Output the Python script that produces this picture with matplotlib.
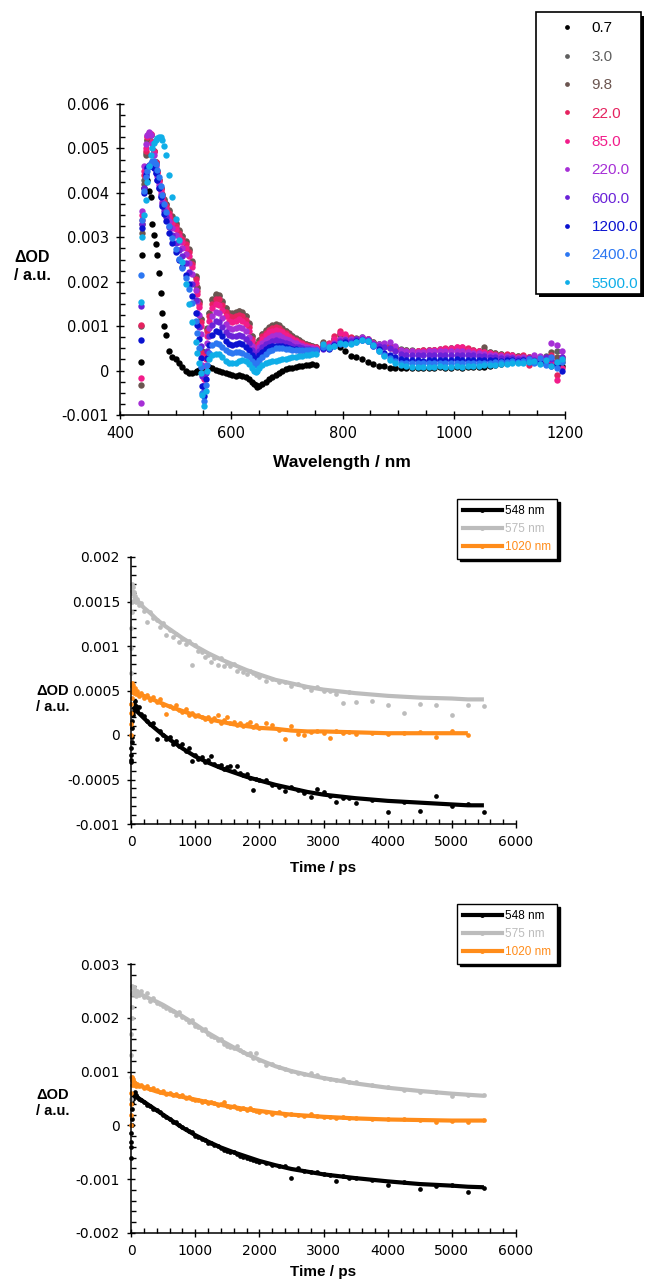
import numpy as np
import matplotlib
matplotlib.use("Agg")
import matplotlib.pyplot as plt
from matplotlib.patches import Rectangle
from matplotlib.lines import Line2D
from matplotlib.ticker import AutoMinorLocator

plt.rcParams['font.family'] = ['DejaVu Sans']

# ---------------- transient spectra (values in 1e-3 OD) ----------------
delay_labels = ['0.7', '3.0', '9.8', '22.0', '85.0', '220.0', '600.0', '1200.0', '2400.0', '5500.0']
delay_colors = ['#000000', '#5f5f5f', '#6b5550', '#e5235f', '#f21c8a',
                '#a62fd6', '#6a22d8', '#0a12d0', '#2c77f2', '#10aee8']

wl_vis = [437, 440, 443, 446, 449, 452, 455, 458, 461, 464, 467, 470, 473, 476, 479, 482,
          488, 494, 500, 506, 512, 518, 524, 530, 536,
          539, 542, 545, 548, 551, 554, 557, 560,
          566, 572, 578, 584, 590, 596, 602, 608, 614, 620, 626, 632, 638,
          641, 644, 647, 650,
          656, 662, 668, 674, 680, 686, 692, 698, 704, 710, 716, 722, 728, 734, 740, 746, 752]

wl_nir = [765, 775, 785, 795, 805, 815, 825, 835, 845, 855, 865,
          875, 885, 895, 905, 915, 925, 935, 945, 955, 965, 975,
          985, 995, 1005, 1015, 1025, 1035, 1045, 1055, 1065, 1075, 1085,
          1095, 1105, 1115, 1125, 1135, 1145, 1155, 1165, 1175, 1185, 1195]

s07_vis = [0.2, 2.6, 4.1, 4.5, 4.3, 4.05, 3.9, 3.3, 3.05, 2.85, 2.6, 2.2, 1.75, 1.3, 1.0, 0.8,
           0.45, 0.3, 0.25, 0.18, 0.08, 0.0, -0.05, -0.05, -0.03,
           0.0, 0.02, 0.03, 0.04, 0.06, 0.08, 0.09, 0.08,
           0.05, 0.02, 0.0, -0.03, -0.06, -0.07, -0.1, -0.12, -0.1, -0.12, -0.15, -0.2, -0.25,
           -0.3, -0.33, -0.36, -0.34,
           -0.3, -0.25, -0.2, -0.15, -0.1, -0.05, 0.0, 0.03, 0.05, 0.06, 0.08, 0.1, 0.1, 0.12, 0.13, 0.14, 0.12]
s3_vis = [1.0, 3.3, 4.3, 4.9, 5.2, 5.3, 5.3, 5.15, 4.95, 4.7, 4.5, 4.3, 4.1, 3.95, 3.85, 3.75,
          3.6, 3.45, 3.3, 3.15, 3.02, 2.9, 2.72, 2.45, 2.1,
          1.85, 1.55, 1.15, 0.45, -0.05, 0.4, 0.95, 1.3,
          1.58, 1.7, 1.68, 1.55, 1.4, 1.3, 1.28, 1.3, 1.33, 1.3, 1.22, 1.05, 0.78,
          0.6, 0.47, 0.52, 0.68,
          0.82, 0.9, 0.96, 1.0, 1.03, 1.0, 0.94, 0.88, 0.82, 0.77, 0.72, 0.68, 0.63, 0.6, 0.57, 0.55, 0.53]
s98_vis = [-0.32, 3.1, 4.2, 4.85, 5.2, 5.3, 5.3, 5.15, 4.95, 4.7, 4.5, 4.3, 4.12, 3.97, 3.86, 3.76,
           3.62, 3.47, 3.32, 3.17, 3.04, 2.92, 2.74, 2.47, 2.12,
           1.87, 1.57, 1.17, 0.45, -0.08, 0.38, 0.93, 1.3,
           1.6, 1.72, 1.7, 1.56, 1.4, 1.3, 1.3, 1.32, 1.35, 1.32, 1.23, 1.06, 0.78,
           0.6, 0.46, 0.52, 0.68,
           0.83, 0.92, 0.98, 1.02, 1.05, 1.02, 0.96, 0.9, 0.84, 0.78, 0.73, 0.68, 0.64, 0.6, 0.57, 0.55, 0.54]
s22_vis = [1.03, 3.4, 4.4, 4.95, 5.25, 5.33, 5.32, 5.15, 4.95, 4.7, 4.48, 4.28, 4.08, 3.92, 3.8, 3.7,
           3.55, 3.4, 3.25, 3.1, 2.97, 2.84, 2.66, 2.4, 2.05,
           1.8, 1.5, 1.1, 0.4, -0.12, 0.33, 0.88, 1.22,
           1.5, 1.61, 1.6, 1.47, 1.32, 1.22, 1.2, 1.22, 1.25, 1.22, 1.14, 0.98, 0.72,
           0.56, 0.43, 0.48, 0.63,
           0.77, 0.85, 0.91, 0.95, 0.97, 0.95, 0.9, 0.84, 0.78, 0.73, 0.69, 0.65, 0.61, 0.58, 0.56, 0.54, 0.52]
s85_vis = [-0.17, 3.5, 4.5, 5.0, 5.28, 5.35, 5.33, 5.15, 4.92, 4.66, 4.44, 4.24, 4.04, 3.88, 3.75, 3.64,
           3.48, 3.33, 3.18, 3.03, 2.9, 2.76, 2.58, 2.32, 1.97,
           1.72, 1.42, 1.0, 0.3, -0.2, 0.25, 0.78, 1.12,
           1.4, 1.5, 1.48, 1.36, 1.22, 1.12, 1.1, 1.12, 1.15, 1.12, 1.05, 0.9, 0.66,
           0.52, 0.4, 0.45, 0.6,
           0.72, 0.8, 0.86, 0.9, 0.92, 0.9, 0.86, 0.8, 0.75, 0.7, 0.66, 0.62, 0.59, 0.56, 0.54, 0.52, 0.51]
s220_vis = [-0.73, 3.6, 4.6, 5.1, 5.3, 5.36, 5.3, 5.1, 4.86, 4.6, 4.38, 4.17, 3.97, 3.8, 3.66, 3.54,
            3.36, 3.2, 3.05, 2.9, 2.76, 2.62, 2.43, 2.17, 1.82,
            1.56, 1.25, 0.82, 0.12, -0.32, 0.1, 0.62, 0.95,
            1.22, 1.32, 1.3, 1.18, 1.05, 0.96, 0.94, 0.95, 0.97, 0.95, 0.88, 0.76, 0.56,
            0.45, 0.36, 0.4, 0.52,
            0.62, 0.69, 0.74, 0.78, 0.8, 0.79, 0.76, 0.72, 0.68, 0.64, 0.61, 0.58, 0.55, 0.53, 0.51, 0.5, 0.49]
s600_vis = [1.45, 3.3, 4.1, 4.45, 4.58, 4.62, 4.63, 4.6, 4.55, 4.45, 4.3, 4.12, 3.94, 3.76, 3.6, 3.46,
            3.24, 3.05, 2.88, 2.72, 2.57, 2.42, 2.22, 1.95, 1.58,
            1.3, 0.98, 0.55, -0.12, -0.45, -0.05, 0.45, 0.78,
            1.02, 1.12, 1.1, 0.99, 0.87, 0.79, 0.77, 0.78, 0.8, 0.78, 0.72, 0.62, 0.46,
            0.37, 0.3, 0.34, 0.44,
            0.53, 0.59, 0.63, 0.66, 0.68, 0.67, 0.65, 0.62, 0.59, 0.56, 0.54, 0.52, 0.5, 0.49, 0.48, 0.47, 0.47]
s1200_vis = [0.69, 3.2, 4.0, 4.4, 4.55, 4.6, 4.62, 4.6, 4.55, 4.45, 4.3, 4.1, 3.9, 3.7, 3.52, 3.36,
             3.1, 2.88, 2.68, 2.5, 2.33, 2.16, 1.95, 1.67, 1.3,
             1.02, 0.7, 0.28, -0.35, -0.58, -0.2, 0.28, 0.58,
             0.8, 0.88, 0.86, 0.77, 0.67, 0.6, 0.58, 0.59, 0.61, 0.59, 0.54, 0.46, 0.35,
             0.28, 0.23, 0.26, 0.34,
             0.42, 0.48, 0.52, 0.55, 0.56, 0.56, 0.55, 0.53, 0.51, 0.49, 0.48, 0.47, 0.46, 0.45, 0.45, 0.44, 0.44]
s2400_vis = [2.15, 3.4, 4.05, 4.35, 4.5, 4.6, 4.68, 4.72, 4.72, 4.65, 4.52, 4.35, 4.15, 3.95, 3.75, 3.56,
             3.25, 2.98, 2.74, 2.52, 2.3, 2.08, 1.83, 1.52, 1.12,
             0.85, 0.5, 0.08, -0.5, -0.68, -0.32, 0.12, 0.4,
             0.57, 0.62, 0.6, 0.53, 0.46, 0.42, 0.4, 0.41, 0.42, 0.4, 0.36, 0.3, 0.21,
             0.16, 0.13, 0.16, 0.23,
             0.31, 0.38, 0.43, 0.47, 0.5, 0.5, 0.5, 0.49, 0.48, 0.47, 0.47, 0.46, 0.46, 0.46, 0.46, 0.46, 0.46]
s5500_vis = [1.55, 3.0, 3.5, 3.85, 4.25, 4.6, 4.85, 5.02, 5.12, 5.2, 5.24, 5.26, 5.25, 5.18, 5.05, 4.85,
             4.4, 3.9, 3.42, 2.95, 2.45, 1.95, 1.5, 1.1, 0.65,
             0.4, 0.18, -0.05, -0.55, -0.8, -0.45, 0.0, 0.25,
             0.35, 0.38, 0.37, 0.3, 0.22, 0.18, 0.16, 0.18, 0.22, 0.24, 0.22, 0.15, 0.05,
             0.0, -0.03, 0.0, 0.06,
             0.12, 0.16, 0.19, 0.21, 0.22, 0.23, 0.25, 0.27, 0.29, 0.3, 0.31, 0.32, 0.33, 0.35, 0.36, 0.37, 0.38]

s07_nir = [0.55, 0.5, 0.58, 0.52, 0.45, 0.33, 0.3, 0.25, 0.2, 0.14, 0.1,
           0.1, 0.06, 0.05, 0.06, 0.05, 0.05, 0.06, 0.05, 0.06, 0.05, 0.07,
           0.06, 0.05, 0.07, 0.06, 0.08, 0.07, 0.08, 0.09, 0.1, 0.12, 0.15,
           0.17, 0.2, 0.22, 0.2, 0.22, 0.2, 0.25, 0.18, 0.22, 0.15, 0.1]
s3_nir = [0.62, 0.58, 0.7, 0.82, 0.78, 0.74, 0.72, 0.75, 0.72, 0.65, 0.6,
          0.58, 0.56, 0.52, 0.48, 0.46, 0.46, 0.45, 0.45, 0.46, 0.46, 0.47,
          0.48, 0.5, 0.5, 0.5, 0.48, 0.46, 0.45, 0.47, 0.42, 0.4, 0.38,
          0.36, 0.35, 0.33, 0.32, 0.3, 0.3, 0.28, 0.32, 0.3, 0.45, 0.25]
s98_nir = [0.64, 0.6, 0.72, 0.8, 0.77, 0.73, 0.73, 0.74, 0.71, 0.64, 0.6,
           0.58, 0.55, 0.5, 0.47, 0.46, 0.45, 0.45, 0.46, 0.46, 0.47, 0.48,
           0.49, 0.5, 0.51, 0.49, 0.47, 0.45, 0.44, 0.52, 0.42, 0.39, 0.37,
           0.35, 0.34, 0.32, 0.31, 0.3, 0.29, 0.3, 0.28, 0.42, 0.3, 0.2]
s22_nir = [0.6, 0.62, 0.78, 0.88, 0.8, 0.76, 0.7, 0.74, 0.7, 0.62, 0.58,
           0.56, 0.52, 0.48, 0.46, 0.45, 0.44, 0.45, 0.46, 0.45, 0.47, 0.46,
           0.5, 0.48, 0.52, 0.54, 0.5, 0.46, 0.44, 0.42, 0.4, 0.38, 0.34,
           0.37, 0.32, 0.3, 0.34, 0.12, 0.3, 0.28, 0.2, 0.35, -0.1, 0.3]
s85_nir = [0.58, 0.6, 0.72, 0.85, 0.82, 0.72, 0.68, 0.72, 0.68, 0.6, 0.57,
           0.55, 0.5, 0.47, 0.45, 0.44, 0.45, 0.44, 0.45, 0.47, 0.46, 0.48,
           0.49, 0.5, 0.53, 0.52, 0.47, 0.45, 0.43, 0.41, 0.39, 0.36, 0.35,
           0.33, 0.34, 0.3, 0.28, 0.3, 0.25, 0.3, 0.15, 0.2, -0.22, 0.05]
s220_nir = [0.5, 0.55, 0.62, 0.7, 0.72, 0.7, 0.72, 0.76, 0.72, 0.62, 0.6,
            0.63, 0.64, 0.55, 0.47, 0.44, 0.43, 0.42, 0.42, 0.43, 0.43, 0.44,
            0.45, 0.44, 0.45, 0.44, 0.42, 0.4, 0.39, 0.38, 0.36, 0.34, 0.33,
            0.32, 0.3, 0.28, 0.3, 0.27, 0.35, 0.32, 0.28, 0.62, 0.58, 0.45]
s600_nir = [0.48, 0.5, 0.6, 0.66, 0.68, 0.66, 0.7, 0.72, 0.68, 0.6, 0.55,
            0.52, 0.5, 0.44, 0.38, 0.35, 0.34, 0.34, 0.34, 0.35, 0.35, 0.36,
            0.36, 0.36, 0.36, 0.36, 0.35, 0.34, 0.33, 0.32, 0.31, 0.3, 0.29,
            0.28, 0.28, 0.27, 0.26, 0.28, 0.24, 0.22, 0.3, 0.25, 0.2, 0.3]
s1200_nir = [0.5, 0.48, 0.58, 0.62, 0.64, 0.63, 0.66, 0.68, 0.66, 0.56, 0.48,
             0.4, 0.34, 0.3, 0.26, 0.24, 0.23, 0.23, 0.22, 0.23, 0.24, 0.24,
             0.23, 0.24, 0.25, 0.24, 0.24, 0.23, 0.24, 0.23, 0.24, 0.23, 0.22,
             0.24, 0.23, 0.22, 0.24, 0.2, 0.22, 0.18, 0.15, 0.1, 0.12, 0.0]
s2400_nir = [0.52, 0.5, 0.55, 0.6, 0.6, 0.62, 0.65, 0.68, 0.66, 0.56, 0.45,
             0.36, 0.28, 0.22, 0.18, 0.17, 0.16, 0.16, 0.16, 0.17, 0.17, 0.16,
             0.17, 0.17, 0.18, 0.17, 0.17, 0.18, 0.17, 0.18, 0.18, 0.19, 0.2,
             0.2, 0.21, 0.2, 0.22, 0.25, 0.18, 0.28, 0.12, 0.3, 0.05, 0.2]
s5500_nir = [0.6, 0.52, 0.56, 0.62, 0.6, 0.6, 0.64, 0.69, 0.66, 0.58, 0.45,
             0.33, 0.24, 0.17, 0.12, 0.1, 0.09, 0.09, 0.08, 0.09, 0.09, 0.1,
             0.08, 0.09, 0.1, 0.09, 0.1, 0.1, 0.11, 0.12, 0.12, 0.13, 0.14,
             0.15, 0.16, 0.17, 0.16, 0.2, 0.22, 0.15, 0.24, 0.1, 0.2, 0.25]

vis_series = [s07_vis, s3_vis, s98_vis, s22_vis, s85_vis, s220_vis, s600_vis, s1200_vis, s2400_vis, s5500_vis]
nir_series = [s07_nir, s3_nir, s98_nir, s22_nir, s85_nir, s220_nir, s600_nir, s1200_nir, s2400_nir, s5500_nir]

# ---------------- kinetics (values in 1e-3 OD) ----------------
kin_labels = ['548 nm', '575 nm', '1020 nm']
kin_colors = ['#000000', '#bcbcbc', '#ff8c1a']

t_kin = [0, 2, 4, 6, 8, 10, 15, 20, 25, 30, 40, 50, 60, 75, 100, 125,
         150, 200, 250, 300, 350, 400, 450, 500, 550, 600, 650, 700, 750, 800, 850, 900, 950, 1000,
         1050, 1100, 1150, 1200, 1250, 1300, 1350, 1400, 1450, 1500, 1550, 1600, 1650, 1700, 1750, 1800, 1850, 1900, 1950, 2000,
         2100, 2200, 2300, 2400, 2500, 2600, 2700, 2800, 2900, 3000, 3100, 3200, 3300, 3400, 3500,
         3750, 4000, 4250, 4500, 4750, 5000, 5250, 5500]
t_fit = [40, 100, 200, 300, 400, 500, 600, 800, 1000, 1200, 1400, 1600, 1800, 2000,
         2250, 2500, 2750, 3000, 3500, 4000, 4500, 5000, 5250, 5500]

nan = float('nan')

# middle panel
k548_a = [-0.28, -0.3, -0.22, -0.15, -0.08, -0.02, 0.08, 0.16, 0.22, 0.26, 0.3, 0.35, 0.38, 0.33, 0.28, 0.31,
          0.24, 0.21, 0.16, 0.12, 0.14, -0.04, 0.05, 0.0, -0.04, -0.02, -0.1, -0.07, -0.12, -0.1, -0.18, -0.15, -0.29, -0.22,
          -0.27, -0.25, -0.3, -0.28, -0.24, -0.33, -0.35, -0.34, -0.38, -0.36, -0.35, -0.4, -0.35, -0.43, -0.45, -0.44, -0.48, -0.62, -0.49, -0.51,
          -0.5, -0.56, -0.58, -0.63, -0.58, -0.62, -0.65, -0.7, -0.61, -0.64, -0.68, -0.75, -0.71, -0.71, -0.76,
          -0.73, -0.87, -0.75, -0.85, -0.69, -0.8, -0.78, -0.86]
k575_a = [0.35, 0.7, 0.98, 1.2, 1.38, 1.5, 1.62, 1.7, 1.66, 1.58, 1.61, 1.52, 1.56, 1.49, 1.53, 1.46,
          1.48, 1.39, 1.27, 1.38, 1.32, 1.29, 1.21, 1.26, 1.12, 1.18, 1.1, 1.14, 1.04, 1.08, 1.02, 1.06, 0.79, 1.01,
          0.94, 0.93, 0.88, 0.9, 0.82, 0.87, 0.79, 0.86, 0.78, 0.81, 0.77, 0.8, 0.72, 0.75, 0.71, 0.68, 0.72, 0.7, 0.67, 0.65,
          0.61, 0.63, 0.6, 0.6, 0.55, 0.57, 0.54, 0.51, 0.54, 0.5, 0.49, 0.46, 0.36, 0.48, 0.37,
          0.38, 0.34, 0.25, 0.35, 0.34, 0.23, 0.34, 0.33]
k1020_a = [0.0, 0.12, 0.25, 0.35, 0.42, 0.48, 0.55, 0.58, 0.52, 0.56, 0.5, 0.47, 0.53, 0.46, 0.49, 0.44,
           0.47, 0.42, 0.45, 0.39, 0.43, 0.37, 0.41, 0.34, 0.24, 0.33, 0.3, 0.34, 0.28, 0.26, 0.29, 0.23, 0.25, 0.21,
           0.23, 0.2, 0.18, 0.2, 0.16, 0.19, 0.22, 0.14, 0.17, 0.2, 0.13, 0.15, 0.11, 0.13, 0.1, 0.12, 0.15, 0.09, 0.11, 0.08,
           0.13, 0.11, 0.06, -0.04, 0.1, 0.01, 0.0, 0.03, 0.05, 0.02, -0.03, 0.04, 0.02, 0.03, 0.01,
           0.02, 0.01, 0.02, 0.03, -0.02, 0.04, 0.0, nan]
fit548_a = [0.32, 0.26, 0.19, 0.12, 0.06, 0.0, -0.05, -0.15, -0.24, -0.31, -0.37, -0.42, -0.47, -0.51,
            -0.56, -0.6, -0.64, -0.67, -0.71, -0.74, -0.76, -0.78, -0.79, -0.79]
fit575_a = [1.56, 1.51, 1.43, 1.37, 1.3, 1.24, 1.19, 1.09, 1.0, 0.92, 0.85, 0.79, 0.73, 0.68,
            0.62, 0.58, 0.54, 0.51, 0.47, 0.44, 0.42, 0.41, 0.4, 0.4]
fit1020_a = [0.5, 0.46, 0.44, 0.41, 0.38, 0.35, 0.32, 0.27, 0.22, 0.18, 0.15, 0.12, 0.1, 0.08,
             0.07, 0.05, 0.04, 0.04, 0.03, 0.02, 0.02, 0.02, 0.02, nan]

# bottom panel
k548_b = [-0.6, -0.4, -0.3, -0.15, 0.0, 0.12, 0.3, 0.42, 0.5, 0.52, 0.55, 0.58, 0.62, 0.56, 0.53, 0.49,
          0.48, 0.43, 0.38, 0.36, 0.31, 0.28, 0.24, 0.2, 0.16, 0.12, 0.07, 0.06, 0.0, -0.03, -0.06, -0.11, -0.13, -0.19,
          -0.21, -0.25, -0.27, -0.32, -0.33, -0.37, -0.39, -0.42, -0.45, -0.47, -0.5, -0.5, -0.54, -0.56, -0.58, -0.6, -0.62, -0.64, -0.66, -0.68,
          -0.7, -0.74, -0.75, -0.76, -0.98, -0.8, -0.84, -0.86, -0.87, -0.9, -0.92, -1.03, -0.94, -0.97, -0.98,
          -1.01, -1.11, -1.06, -1.18, -1.12, -1.1, -1.24, -1.17]
k575_b = [0.5, 0.9, 1.3, 1.7, 2.0, 2.2, 2.45, 2.6, 2.55, 2.48, 2.58, 2.45, 2.52, 2.41, 2.49, 2.43,
          2.5, 2.38, 2.46, 2.32, 2.36, 2.28, 2.25, 2.22, 2.19, 2.14, 2.12, 2.05, 2.1, 2.01, 1.98, 1.92, 1.96, 1.85,
          1.83, 1.78, 1.8, 1.7, 1.67, 1.65, 1.58, 1.6, 1.52, 1.48, 1.46, 1.44, 1.48, 1.4, 1.37, 1.32, 1.35, 1.25, 1.34, 1.21,
          1.13, 1.14, 1.08, 1.05, 1.01, 0.98, 0.95, 0.97, 0.93, 0.89, 0.87, 0.85, 0.86, 0.81, 0.8,
          0.76, 0.72, 0.65, 0.63, 0.62, 0.54, 0.57, 0.56]
k1020_b = [0.0, 0.2, 0.4, 0.6, 0.75, 0.85, 0.9, 0.88, 0.82, 0.86, 0.8, 0.76, 0.79, 0.74, 0.77, 0.73,
           0.75, 0.7, 0.73, 0.67, 0.7, 0.65, 0.62, 0.64, 0.58, 0.6, 0.56, 0.59, 0.54, 0.56, 0.51, 0.53, 0.5, 0.48,
           0.47, 0.44, 0.46, 0.42, 0.44, 0.41, 0.38, 0.39, 0.43, 0.36, 0.34, 0.36, 0.32, 0.31, 0.33, 0.29, 0.32, 0.28, 0.27, 0.25,
           0.24, 0.22, 0.25, 0.2, 0.21, 0.19, 0.18, 0.22, 0.17, 0.16, 0.15, 0.14, 0.16, 0.13, 0.14,
           0.12, 0.11, 0.12, 0.1, 0.06, 0.09, 0.07, 0.1]
fit548_b = [0.56, 0.52, 0.44, 0.36, 0.28, 0.2, 0.12, -0.04, -0.18, -0.3, -0.41, -0.5, -0.58, -0.66,
            -0.74, -0.81, -0.86, -0.91, -0.98, -1.04, -1.09, -1.12, -1.14, -1.15]
fit575_b = [2.5, 2.47, 2.41, 2.35, 2.3, 2.24, 2.17, 2.03, 1.88, 1.72, 1.58, 1.45, 1.33, 1.22,
            1.1, 1.01, 0.94, 0.88, 0.78, 0.7, 0.64, 0.59, 0.57, 0.55]
fit1020_b = [0.78, 0.75, 0.71, 0.67, 0.63, 0.6, 0.58, 0.53, 0.48, 0.43, 0.38, 0.34, 0.3, 0.27,
             0.23, 0.2, 0.18, 0.16, 0.13, 0.11, 0.1, 0.09, 0.09, 0.09]

W, H = 645, 1280


def fx(px):
    return px / W


def fy(py):
    return 1 - py / H


def style_axes(ax, xticks, yticks, ylabels, xminor, yminor, size):
    ax.spines['top'].set_visible(False)
    ax.spines['right'].set_visible(False)
    for s in ['left', 'bottom']:
        ax.spines[s].set_linewidth(1.1)
    ax.set_xticks(xticks)
    ax.set_xticklabels([str(v) for v in xticks])
    ax.set_yticks(yticks)
    ax.set_yticklabels(ylabels)
    ax.xaxis.set_minor_locator(AutoMinorLocator(xminor))
    ax.yaxis.set_minor_locator(AutoMinorLocator(yminor))
    ax.tick_params(which='major', direction='inout', length=6, width=1, pad=5, labelsize=size)
    ax.tick_params(which='minor', direction='in', length=3.5, width=1)


fig = plt.figure(figsize=(6.45, 12.8), dpi=100)
bold = dict(family='Liberation Sans', fontweight='bold')

# ---------------- top: spectra ----------------
ax1 = fig.add_axes([fx(120), fy(415), (565 - 120) / W, (415 - 104) / H])
for lab, col, vis, nir in zip(delay_labels, delay_colors, vis_series, nir_series):
    ax1.plot(wl_vis, np.array(vis) * 1e-3, 'o', color=col, ms=4.6, mew=0, label=lab)
    ax1.plot(wl_nir, np.array(nir) * 1e-3, 'o', color=col, ms=4.6, mew=0)
style_axes(ax1, [400, 600, 800, 1000, 1200],
           [-0.001, 0, 0.001, 0.002, 0.003, 0.004, 0.005, 0.006],
           ['-0.001', '0', '0.001', '0.002', '0.003', '0.004', '0.005', '0.006'], 4, 4, 10.5)
ax1.set_xlim(400, 1200)
ax1.set_ylim(-0.001, 0.006)

# legend box with solid shadow
fig.add_artist(Rectangle((fx(539), fy(297)), (641 - 536) / W, (294 - 12.5) / H,
                         transform=fig.transFigure, facecolor='black', edgecolor='none', zorder=3))
fig.add_artist(Rectangle((fx(536), fy(294)), (641 - 536) / W, (294 - 12.5) / H,
                         transform=fig.transFigure, facecolor='white', edgecolor='black', lw=1.2, zorder=4))
h, l = ax1.get_legend_handles_labels()
leg1 = fig.legend(h, l, loc='upper left', bbox_to_anchor=(fx(559), fy(21.5)), frameon=False,
                  borderpad=0, borderaxespad=0, handlelength=1.0, handletextpad=1.13, labelspacing=0.94,
                  markerscale=0.75, prop={'family': 'Liberation Sans', 'size': 11})
leg1.set_zorder(5)
for txt, c in zip(leg1.get_texts(), delay_colors):
    txt.set_color(c)

fig.text(fx(32), fy(266), 'ΔOD\n/ a.u.', ha='center', va='center', fontsize=11.5, linespacing=1.25, **bold)
fig.text(fx(342), fy(462), 'Wavelength / nm', ha='center', va='center', fontsize=12.5, **bold)


# ---------------- kinetics panels ----------------
def kinetics(rect, scat, fits, yticks, ylabels, yminor, ylim, legend_top, xlabel_y, ylabel_y):
    ax = fig.add_axes(rect)
    for col, s, f in zip(kin_colors, scat, fits):
        ax.plot(t_kin, np.array(s) * 1e-3, 'o', color=col, ms=3.4, mew=0, clip_on=False)
        ax.plot(t_fit, np.array(f) * 1e-3, '-', color=col, lw=3, solid_capstyle='butt')
    style_axes(ax, [0, 1000, 2000, 3000, 4000, 5000, 6000], yticks, ylabels, 5, yminor, 10)
    ax.set_xlim(0, 6000)
    ax.set_ylim(*ylim)
    handles = [Line2D([0], [0], color=c, lw=3, marker='o', ms=2.5) for c in kin_colors]
    leg = ax.legend(handles, kin_labels, loc='upper left', bbox_to_anchor=(fx(457), fy(legend_top)),
                    bbox_transform=fig.transFigure, fancybox=False, edgecolor='black', framealpha=1,
                    shadow={'facecolor': 'black', 'edgecolor': 'black', 'alpha': 1},
                    borderpad=0.5, borderaxespad=0, handlelength=3.3, handletextpad=0.3, labelspacing=0.5,
                    prop={'family': 'Liberation Sans', 'size': 8.5})
    leg.get_frame().set_linewidth(1.0)
    for txt, c in zip(leg.get_texts(), kin_colors):
        txt.set_color(c)
    fig.text(fx(53), fy(ylabel_y), 'ΔOD\n/ a.u.', ha='center', va='center', fontsize=10.5, linespacing=1.15, **bold)
    fig.text(fx(323), fy(xlabel_y), 'Time / ps', ha='center', va='center', fontsize=11, **bold)
    return ax


ax2 = kinetics([fx(131), fy(824), (516 - 131) / W, (824 - 557) / H],
               [k548_a, k575_a, k1020_a], [fit548_a, fit575_a, fit1020_a],
               [-0.001, -0.0005, 0, 0.0005, 0.001, 0.0015, 0.002],
               ['-0.001', '-0.0005', '0', '0.0005', '0.001', '0.0015', '0.002'],
               5, (-0.001, 0.002), 499, 868, 699)

ax3 = kinetics([fx(131), fy(1233), (516 - 131) / W, (1233 - 964) / H],
               [k548_b, k575_b, k1020_b], [fit548_b, fit575_b, fit1020_b],
               [-0.002, -0.001, 0, 0.001, 0.002, 0.003],
               ['-0.002', '-0.001', '0', '0.001', '0.002', '0.003'],
               5, (-0.002, 0.003), 904, 1272, 1103)

fig.savefig('out.png', dpi=100)
